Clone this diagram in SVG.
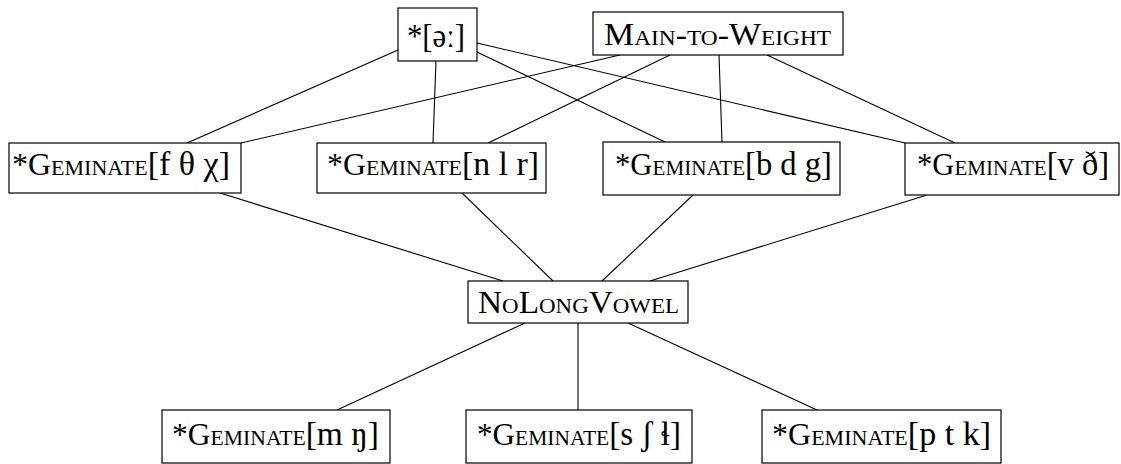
<svg xmlns="http://www.w3.org/2000/svg" width="1121" height="464" viewBox="0 0 1121 464">
<style>
.box{fill:#fff;stroke:#000;stroke-width:1.2}
.lbl{font-family:"Liberation Serif","DejaVu Serif",serif;font-size:32px;fill:#000;font-variant:small-caps}
.ipa{font-variant:normal;font-size:34px}
.edge line{stroke:#000;stroke-width:1.1}
</style>
<rect width="1121" height="464" fill="#fff"/>
<g id="connectors" class="edge">
<line x1="398" y1="50" x2="187" y2="143"/>
<line x1="436" y1="61" x2="433" y2="143"/>
<line x1="477" y1="52" x2="665" y2="142"/>
<line x1="477" y1="43" x2="905" y2="143"/>
<line x1="620" y1="55" x2="241" y2="143"/>
<line x1="670" y1="55" x2="488" y2="143"/>
<line x1="719" y1="55" x2="722" y2="142"/>
<line x1="767" y1="55" x2="955" y2="143"/>
<line x1="220" y1="193" x2="503" y2="281"/>
<line x1="462" y1="193" x2="553" y2="281"/>
<line x1="693" y1="195" x2="602" y2="281"/>
<line x1="927" y1="195" x2="650" y2="281"/>
<line x1="525" y1="323" x2="337" y2="410"/>
<line x1="578" y1="323" x2="578" y2="410"/>
<line x1="628" y1="323" x2="817" y2="410"/>
</g>
<g id="schwa">
<rect class="box" x="398" y="8" width="79" height="53"/>
<text class="lbl" x="407" y="47" textLength="58" lengthAdjust="spacingAndGlyphs"><tspan class="ipa">*[əː]</tspan></text>
</g>
<g id="main-to-weight">
<rect class="box" x="593" y="12" width="250" height="43"/>
<text class="lbl" x="604" y="45" textLength="227" lengthAdjust="spacingAndGlyphs">Main-to-Weight</text>
</g>
<g id="gem-fthx">
<rect class="box" x="9" y="143" width="232" height="50"/>
<text class="lbl" x="12" y="175" textLength="218" lengthAdjust="spacingAndGlyphs">*Geminate<tspan class="ipa">[f θ χ]</tspan></text>
</g>
<g id="gem-nlr">
<rect class="box" x="317" y="143" width="229" height="50"/>
<text class="lbl" x="327" y="175" textLength="212" lengthAdjust="spacingAndGlyphs">*Geminate<tspan class="ipa">[n l r]</tspan></text>
</g>
<g id="gem-bdg">
<rect class="box" x="603" y="142" width="237" height="53"/>
<text class="lbl" x="615" y="175" textLength="217" lengthAdjust="spacingAndGlyphs">*Geminate<tspan class="ipa">[b d g]</tspan></text>
</g>
<g id="gem-vdh">
<rect class="box" x="905" y="143" width="214" height="52"/>
<text class="lbl" x="917" y="175" textLength="192" lengthAdjust="spacingAndGlyphs">*Geminate<tspan class="ipa">[v ð]</tspan></text>
</g>
<g id="nolongvowel">
<rect class="box" x="468" y="281" width="220" height="42"/>
<text class="lbl" x="478" y="313" textLength="201" lengthAdjust="spacingAndGlyphs">NoLongVowel</text>
</g>
<g id="gem-mng">
<rect class="box" x="162" y="410" width="228" height="53"/>
<text class="lbl" x="172" y="445" textLength="207" lengthAdjust="spacingAndGlyphs">*Geminate<tspan class="ipa">[m ŋ]</tspan></text>
</g>
<g id="gem-ssh">
<rect class="box" x="466" y="410" width="226" height="53"/>
<text class="lbl" x="477" y="445" textLength="204" lengthAdjust="spacingAndGlyphs">*Geminate<tspan class="ipa">[s ʃ ɬ]</tspan></text>
</g>
<g id="gem-ptk">
<rect class="box" x="762" y="410" width="239" height="53"/>
<text class="lbl" x="772" y="445" textLength="219" lengthAdjust="spacingAndGlyphs">*Geminate<tspan class="ipa">[p t k]</tspan></text>
</g>
</svg>
